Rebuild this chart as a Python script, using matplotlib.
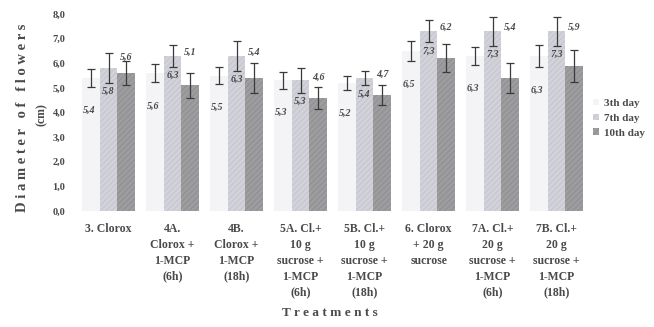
#!/usr/bin/env python3
"""Flower diameter per treatment, measured at day 3, 7 and 10 (grouped bars)."""

import numpy as np
import matplotlib.pyplot as plt

treatments = [
    "3. Clorox",
    "4A.\nClorox +\n1-MCP\n(6h)",
    "4B.\nClorox +\n1-MCP\n(18h)",
    "5A. Cl.+\n10 g\nsucrose +\n1-MCP\n(6h)",
    "5B. Cl.+\n10 g\nsucrose +\n1-MCP\n(18h)",
    "6. Clorox\n+ 20 g\nsucrose",
    "7A. Cl.+\n20 g\nsucrose +\n1-MCP\n(6h)",
    "7B. Cl.+\n20 g\nsucrose +\n1-MCP\n(18h)",
]
series_names = ["3th day", "7th day", "10th day"]

day3 = [5.4, 5.6, 5.5, 5.3, 5.2, 6.5, 6.3, 6.3]
day7 = [5.8, 6.3, 6.3, 5.3, 5.4, 7.3, 7.3, 7.3]
day10 = [5.6, 5.1, 5.4, 4.6, 4.7, 6.2, 5.4, 5.9]

err3 = [0.38, 0.38, 0.33, 0.33, 0.30, 0.40, 0.35, 0.45]
err7 = [0.60, 0.45, 0.60, 0.50, 0.30, 0.45, 0.60, 0.60]
err10 = [0.50, 0.50, 0.60, 0.45, 0.40, 0.57, 0.60, 0.65]

yticks = [0, 1, 2, 3, 4, 5, 6, 7, 8]

FACES = ["#f4f4f6", "#d2d2da", "#9d9d9f"]
HATCH_EDGES = ["#ebebee", "#c2c2cb", "#8c8c8f"]
TXT = "#4a4a4a"
SERIF = ["Liberation Serif", "DejaVu Serif"]


def comma(v):
    return f"{v:.1f}".replace(".", ",")


def main():
    plt.rcParams["font.family"] = SERIF
    plt.rcParams["hatch.linewidth"] = 0.6

    fig = plt.figure(figsize=(6.54, 3.27), dpi=100)
    ax = fig.add_axes([0.117, 0.355, 0.783, 0.602])

    x = np.arange(len(treatments))
    w = 0.277
    vals = [day3, day7, day10]
    errs = [err3, err7, err10]

    handles = []
    for k in range(3):
        xs = x + (k - 1) * w
        b = ax.bar(xs, vals[k], width=w, color=FACES[k], edgecolor=HATCH_EDGES[k],
                   linewidth=0, hatch="//////" if k else None, label=series_names[k],
                   zorder=2)
        handles.append(b)
        ax.errorbar(xs, vals[k], yerr=errs[k], fmt="none", ecolor="#3a3a3a",
                    elinewidth=0.9, capsize=3, capthick=0.9, zorder=3)

    # value labels, placed roughly where the original puts them
    lab = dict(ha="center", va="center", fontsize=7.2, fontweight="bold",
               style="italic", color=TXT, zorder=4)
    for i in range(len(treatments)):
        ax.text(x[i] - w - 0.03, day3[i] - err3[i] - 0.95, comma(day3[i]), **lab)
        ax.text(x[i], day7[i] - err7[i] - 0.35, comma(day7[i]), **lab)
        top = max(day7[i], day10[i] + err10[i]) + 0.15
        ax.text(x[i] + w, top, comma(day10[i]), **lab)

    ax.set_xlim(-0.5, len(treatments) - 0.5)
    ax.set_ylim(0, 8)
    ax.set_yticks(yticks)
    ax.set_yticklabels([comma(t) for t in yticks], fontsize=7.5, fontweight="bold",
                       color=TXT)
    ax.set_xticks(x)
    ax.set_xticklabels(treatments, fontsize=8.5, fontweight="bold", color=TXT,
                       linespacing=1.42, va="top")
    ax.tick_params(axis="both", length=0)
    ax.tick_params(axis="x", pad=9)
    ax.tick_params(axis="y", pad=8)
    for s in ax.spines.values():
        s.set_visible(False)

    fig.text(0.505, 0.042, "T r e a t m e n t s", ha="center", va="center",
             fontsize=9.5, fontweight="bold", color=TXT)
    fig.text(0.034, 0.64, "D i a m e t e r   o f   f l o w e r s", rotation=90,
             ha="center", va="center", fontsize=10.5, fontweight="bold", color=TXT)
    fig.text(0.064, 0.65, "(cm)", rotation=90, ha="center", va="center",
             fontsize=8.5, fontweight="bold", color=TXT)

    fig.legend(handles=handles, labels=series_names, loc="center left",
               bbox_to_anchor=(0.900, 0.638), frameon=False,
               handlelength=0.5, handleheight=0.5, handletextpad=0.5,
               labelspacing=0.5, borderaxespad=0, prop={"weight": "bold", "size": 8})
    for t in fig.legends[0].get_texts():
        t.set_color(TXT)

    fig.savefig("out.png", dpi=100)
    plt.close(fig)


if __name__ == "__main__":
    main()
